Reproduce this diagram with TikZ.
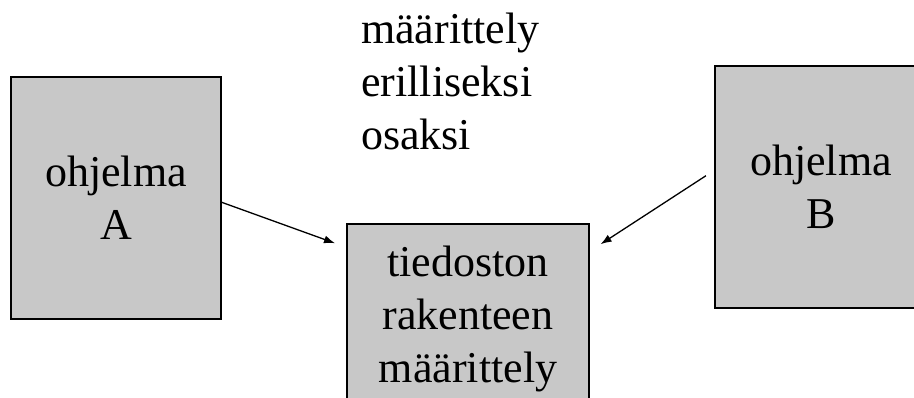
\documentclass[tikz,border=0pt]{standalone}
\usepackage{fontspec}
\setmainfont{Liberation Serif}
\usetikzlibrary{calc,arrows.meta}

\definecolor{boxgray}{RGB}{200,200,200}

\begin{document}
\begin{tikzpicture}[x=1pt,y=-1pt,
    box/.style={draw=black, fill=boxgray, line width=1.4pt, inner sep=0pt, align=center,
                font=\fontsize{44}{53}\selectfont},
    conn/.style={-{Latex[length=11pt,width=8pt]}, line width=1.3pt}]
    \useasboundingbox (0,0) rectangle (914,398);
    \clip (0,0) rectangle (914,398);

    % The two programs and the shared definition
    \node[box, minimum width=210, minimum height=242] (progA) at (116,198) {ohjelma\\A};
    \node[box, minimum width=212, minimum height=242] (progB) at (821,187) {ohjelma\\B};
    \node[box, minimum width=242, minimum height=190] (spec) at (468,319) {tiedoston\\rakenteen\\määrittely};

    % Caption above
    \node[anchor=north west, inner sep=0pt, align=left, font=\fontsize{44}{53}\selectfont]
        (caption) at (361,13) {määrittely\\erilliseksi\\osaksi};

    % Arrows into the definition
    \draw[conn, shorten >=12pt] ([yshift=-126pt]progA.north east) -- ([yshift=-24pt]spec.north west);
    \draw[conn, shorten <=10pt, shorten >=13pt] ([yshift=-105pt]progB.north west) -- ([yshift=-28pt]spec.north east);
\end{tikzpicture}
\end{document}
